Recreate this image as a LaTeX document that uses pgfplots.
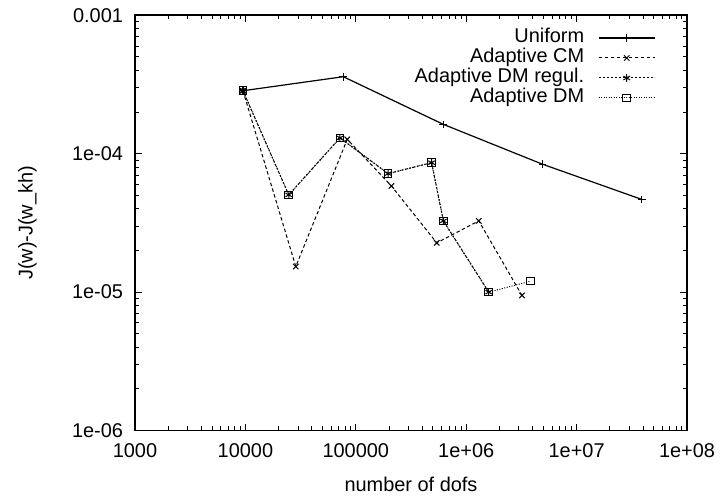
\documentclass[border=0pt]{standalone}
\usepackage{fontspec}
\setmainfont{Liberation Sans}
\usepackage{pgfplots}
\pgfplotsset{compat=1.18}

\begin{document}
\begin{tikzpicture}
\begin{axis}[
    scale only axis,
    width=276bp, height=207.6bp,
    xmode=log, ymode=log,
    xmin=1000, xmax=1e8, ymin=1e-6, ymax=1e-3,
    xtick={1000,10000,100000,1e6,1e7,1e8},
    xticklabels={1000,10000,100000,1e+06,1e+07,1e+08},
    ytick={1e-6,1e-5,1e-4,1e-3},
    yticklabels={1e-06,1e-05,1e-04,0.001},
    /pgf/number format/assume math mode=true,
    tick align=inside,
    major tick length=3.5bp, minor tick length=2bp,
    every tick/.style={black, line width=0.5bp},
    axis line style={line width=0.8bp},
    xticklabel style={yshift=-3bp},
    yticklabel style={xshift=-2.5bp},
    xlabel={number of dofs},
    ylabel={J(w)-J(w\_kh)},
    every axis x label/.style={at={(axis description cs:0.5,-0.129)}, anchor=center},
    every axis y label/.style={at={(axis description cs:-0.195,0.5)}, rotate=90, anchor=center},
    legend plot pos=right,
    legend cell align=right,
    legend image code/.code={
        \draw[#1] (0bp,0bp) -- (28bp,0bp);
        \draw[#1] plot coordinates {(14bp,0bp)};
    },
    legend style={draw=none, fill=none, at={(rel axis cs:1,1)}, anchor=north east,
        xshift=-12.65bp, yshift=-4.15bp, column sep=7bp, row sep=0pt,
        nodes={inner sep=0pt, text height=7.2bp, text depth=2.8bp}},
    every axis plot/.append style={black, line width=0.5bp, mark size=1.9bp},
]
\coordinate (sw) at (rel axis cs:0,0);
\coordinate (ne) at (rel axis cs:1,1);

\addplot[line width=0.6bp, mark=+, mark options={solid}] coordinates {
    (9500, 2.85e-4) (77000, 3.6e-4) (620000, 1.63e-4) (4.9e6, 8.4e-5) (3.9e7, 4.67e-5)
};
\addlegendentry{Uniform}

\addplot[dash pattern=on 1.75bp off 1.25bp, mark=x, mark options={solid}] coordinates {
    (9500, 2.85e-4) (28600, 1.53e-5) (83700, 1.27e-4) (210000, 5.85e-5)
    (541000, 2.27e-5) (1.3e6, 3.27e-5) (3.2e6, 9.46e-6)
};
\addlegendentry{Adaptive CM}

\addplot[dash pattern=on 1bp off 1bp, mark=asterisk, mark options={solid}] coordinates {
    (9500, 2.85e-4) (24700, 5.04e-5) (71900, 1.30e-4) (196000, 7.18e-5)
    (486000, 8.61e-5) (621000, 3.27e-5) (1.6e6, 1.0e-5)
};
\addlegendentry{Adaptive DM regul.}

\addplot[dash pattern=on 0.5bp off 0.75bp, mark=square, mark options={solid}] coordinates {
    (9500, 2.85e-4) (24700, 5.04e-5) (71900, 1.30e-4) (196000, 7.18e-5)
    (486000, 8.61e-5) (621000, 3.27e-5) (1.6e6, 1.0e-5) (3.84e6, 1.2e-5)
};
\addlegendentry{Adaptive DM}
\end{axis}
\pgfresetboundingbox
\path[use as bounding box] ([shift={(-67.5bp,-34.75bp)}]sw) rectangle ([shift={(17.5bp,7.65bp)}]ne);
\end{tikzpicture}
\end{document}
